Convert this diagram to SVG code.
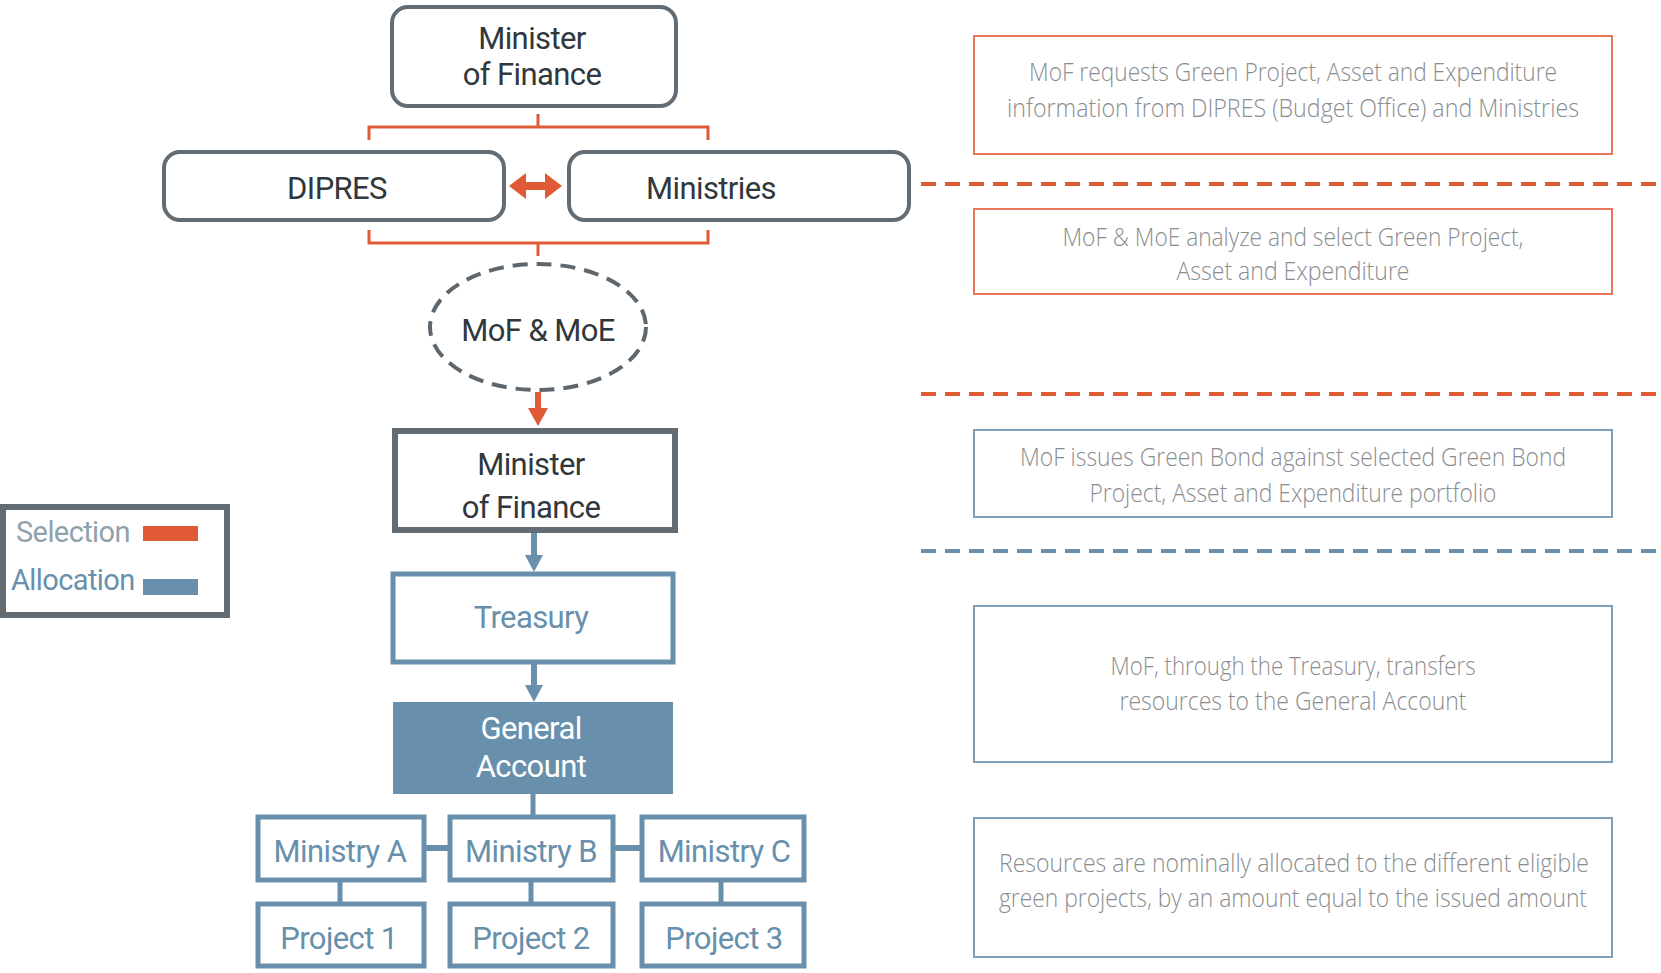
<svg xmlns="http://www.w3.org/2000/svg" width="1661" height="973" viewBox="0 0 1661 973">
  <style>
    .gray { fill: #ffffff; stroke: #636b73; stroke-width: 4; }
    .blue { fill: #ffffff; stroke: #6890ac; stroke-width: 5; }
    .lbl { font-family: Roboto, "Liberation Sans", sans-serif; font-size: 31px; letter-spacing: -0.6px; text-anchor: middle; }
    .dark { fill: #30373d; }
    .bl { fill: #6890ac; }
    .wh { fill: #ffffff; }
    .note { font-family: "Open Sans", "Liberation Sans", sans-serif; font-weight: 300; font-size: 25px; fill: #8a8d90; text-anchor: middle; }
    .sel { stroke: #e05a35; }
    .alloc { stroke: #6890ac; }
    .noteOrange { fill: #ffffff; stroke: #e8775a; stroke-width: 2; }
    .noteBlue { fill: #ffffff; stroke: #7f9fb6; stroke-width: 2; }
  </style>

  <rect width="1661" height="973" fill="#ffffff"/>

  <!-- connectors -->
  <g id="connectors" fill="none">
    <!-- selection brackets -->
    <path class="sel" stroke-width="3" d="M538 114 V127 M369 140 V127 H708 V140"/>
    <path class="sel" stroke-width="3" d="M369 230 V243 H708 V230 M538 243 V256"/>
    <!-- two-way arrow between DIPRES and Ministries -->
    <polygon fill="#e05a35" stroke="none" points="509,186 526,173 526,182 545,182 545,173 562,186 545,199 545,190 526,190 526,199"/>
    <!-- selection arrow into Minister of Finance -->
    <path class="sel" stroke-width="6" d="M538 392 V412"/>
    <polygon fill="#e05a35" points="528,408 548,408 538,426"/>
    <!-- allocation arrows -->
    <path class="alloc" stroke-width="6" d="M534 530 V558"/>
    <polygon fill="#6890ac" points="525,555 543,555 534,572"/>
    <path class="alloc" stroke-width="6" d="M534 663 V688"/>
    <polygon fill="#6890ac" points="525,685 543,685 534,702"/>
    <!-- general account to ministries -->
    <path class="alloc" stroke-width="5" d="M533 794 V815"/>
    <path class="alloc" stroke-width="6" d="M425 848 H449 M614 848 H641"/>
    <path class="alloc" stroke-width="5" d="M340 881 V902 M531 881 V902 M721 881 V902"/>
    <!-- stage separators -->
    <path class="sel" stroke-width="4" stroke-dasharray="15 9" d="M921 184 H1661"/>
    <path class="sel" stroke-width="4" stroke-dasharray="15 9" d="M921 394 H1661"/>
    <path class="alloc" stroke-width="4" stroke-dasharray="15 9" d="M921 551 H1661"/>
  </g>

  <g id="minister-top">
    <rect class="gray" x="392" y="7" width="284" height="99" rx="16"/>
    <text class="lbl dark" x="532" y="49">Minister</text>
    <text class="lbl dark" x="532" y="85">of Finance</text>
  </g>

  <g id="dipres">
    <rect class="gray" x="164" y="152" width="340" height="68" rx="16"/>
    <text class="lbl dark" x="337" y="199">DIPRES</text>
  </g>

  <g id="ministries">
    <rect class="gray" x="569" y="152" width="340" height="68" rx="16"/>
    <text class="lbl dark" x="711" y="199">Ministries</text>
  </g>

  <g id="mof-moe">
    <ellipse cx="538" cy="327" rx="108" ry="63" fill="#ffffff" stroke="#5f676e" stroke-width="4" stroke-dasharray="15 9"/>
    <text class="lbl dark" x="538" y="341">MoF &amp; MoE</text>
  </g>

  <g id="minister-issuer">
    <rect x="395" y="431" width="280" height="99" fill="#ffffff" stroke="#636b73" stroke-width="6"/>
    <text class="lbl dark" x="531" y="475">Minister</text>
    <text class="lbl dark" x="531" y="518">of Finance</text>
  </g>

  <g id="treasury">
    <rect class="blue" x="393" y="574" width="280" height="88"/>
    <text class="lbl bl" x="531" y="628">Treasury</text>
  </g>

  <g id="general-account">
    <rect x="393" y="702" width="280" height="92" fill="#6890ac"/>
    <text class="lbl wh" x="531" y="739">General</text>
    <text class="lbl wh" x="531" y="777">Account</text>
  </g>

  <g id="ministry-a">
    <rect class="blue" x="258" y="817" width="166" height="63"/>
    <text class="lbl bl" x="340" y="862">Ministry A</text>
  </g>
  <g id="ministry-b">
    <rect class="blue" x="450" y="817" width="163" height="63"/>
    <text class="lbl bl" x="531" y="862">Ministry B</text>
  </g>
  <g id="ministry-c">
    <rect class="blue" x="642" y="817" width="162" height="63"/>
    <text class="lbl bl" x="724" y="862">Ministry C</text>
  </g>

  <g id="project-1">
    <rect class="blue" x="258" y="904" width="166" height="62"/>
    <text class="lbl bl" x="339" y="949">Project 1</text>
  </g>
  <g id="project-2">
    <rect class="blue" x="450" y="904" width="163" height="62"/>
    <text class="lbl bl" x="531" y="949">Project 2</text>
  </g>
  <g id="project-3">
    <rect class="blue" x="642" y="904" width="162" height="62"/>
    <text class="lbl bl" x="724" y="949">Project 3</text>
  </g>

  <g id="legend">
    <rect x="3" y="507" width="224" height="108" fill="#ffffff" stroke="#636b73" stroke-width="6"/>
    <text x="16" y="542" font-family="Roboto, 'Liberation Sans', sans-serif" font-size="29" letter-spacing="-0.6" fill="#8fa2ac">Selection</text>
    <rect x="143" y="526" width="55" height="15" fill="#e05a35"/>
    <text x="11" y="590" font-family="Roboto, 'Liberation Sans', sans-serif" font-size="29" letter-spacing="-0.6" fill="#6890ac">Allocation</text>
    <rect x="143" y="579" width="55" height="16" fill="#6890ac"/>
  </g>

  <g id="step-request">
    <rect class="noteOrange" x="974" y="36" width="638" height="118"/>
    <text class="note" x="1293" y="81" textLength="528" lengthAdjust="spacingAndGlyphs">MoF requests Green Project, Asset and Expenditure</text>
    <text class="note" x="1293" y="117" textLength="572" lengthAdjust="spacingAndGlyphs">information from DIPRES (Budget Office) and Ministries</text>
  </g>

  <g id="step-select">
    <rect class="noteOrange" x="974" y="209" width="638" height="85"/>
    <text class="note" x="1293" y="246" textLength="461" lengthAdjust="spacingAndGlyphs">MoF &amp; MoE analyze and select Green Project,</text>
    <text class="note" x="1293" y="280" textLength="233" lengthAdjust="spacingAndGlyphs">Asset and Expenditure</text>
  </g>

  <g id="step-issue">
    <rect class="noteBlue" x="974" y="430" width="638" height="87"/>
    <text class="note" x="1293" y="466" textLength="546" lengthAdjust="spacingAndGlyphs">MoF issues Green Bond against selected Green Bond</text>
    <text class="note" x="1293" y="502" textLength="407" lengthAdjust="spacingAndGlyphs">Project, Asset and Expenditure portfolio</text>
  </g>

  <g id="step-transfer">
    <rect class="noteBlue" x="974" y="606" width="638" height="156"/>
    <text class="note" x="1293" y="675" textLength="365" lengthAdjust="spacingAndGlyphs">MoF, through the Treasury, transfers</text>
    <text class="note" x="1293" y="710" textLength="347" lengthAdjust="spacingAndGlyphs">resources to the General Account</text>
  </g>

  <g id="step-allocate">
    <rect class="noteBlue" x="974" y="818" width="638" height="139"/>
    <text class="note" x="1294" y="872" textLength="590" lengthAdjust="spacingAndGlyphs">Resources are nominally allocated to the different eligible</text>
    <text class="note" x="1293" y="907" textLength="588" lengthAdjust="spacingAndGlyphs">green projects, by an amount equal to the issued amount</text>
  </g>
</svg>
